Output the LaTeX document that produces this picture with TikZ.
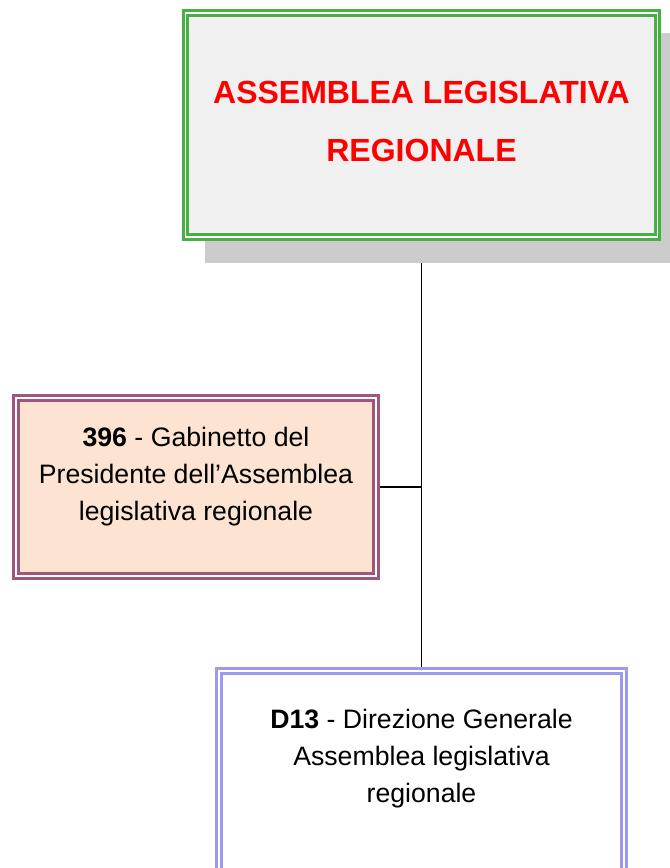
\documentclass[tikz,border=0pt]{standalone}
\usepackage{fontspec}
\setmainfont{Liberation Sans}
\usetikzlibrary{backgrounds, positioning}

\definecolor{assgreen}{RGB}{70,175,70}
\definecolor{assgray}{RGB}{240,240,240}
\definecolor{gabrose}{RGB}{160,85,125}
\definecolor{gabpeach}{RGB}{253,228,210}
\definecolor{dirblue}{RGB}{155,155,240}
\definecolor{shadowgray}{RGB}{204,204,204}

\begin{document}
\begin{tikzpicture}[x=0.75pt, y=-0.75pt,
    box/.style={double=white, line width=2.2pt, double distance=0.9pt,
        outer sep=0pt, inner sep=0pt, align=center},
    link/.style={line width=1.4pt, black}]
    \def\px{0.75pt}
    \useasboundingbox (0,0) rectangle (669,868);

    % Top box: the assembly
    \node[box, draw=assgreen, fill=assgray, minimum width=472*\px, minimum height=224*\px,
        font=\fontsize{24}{43.5}\selectfont\bfseries, text=red, text depth=6pt]
        (ass) at (421.5,125) {ASSEMBLEA LEGISLATIVA\\REGIONALE};

    % Left box: the cabinet
    \node[box, draw=gabrose, fill=gabpeach, minimum width=360*\px, minimum height=178*\px,
        font=\fontsize{20}{27.75}\selectfont, text depth=20pt]
        (gab) at (196,487) {\textbf{396} - Gabinetto del\\Presidente dell’Assemblea\\legislativa regionale};

    % Bottom box: the general direction
    \node[box, draw=dirblue, fill=white, minimum width=405*\px, minimum height=260*\px, anchor=north]
        (dir) at (421.5,671) {};
    \node[font=\fontsize{20}{27.75}\selectfont, align=center, inner sep=0pt, anchor=north,
        below=28.2pt of dir.north]
        (dirname) {\textbf{D13} - Direzione Generale\\Assemblea legislativa\\regionale};

    % Connectors and shadow behind the boxes
    \begin{scope}[on background layer]
        \draw[link] (ass.south) -- (dir.north);
        \draw[link] (gab.east) -- (gab.east -| ass.south);
        \fill[shadowgray] ([shift={(19,19.5)}]ass.north west) rectangle ([shift={(25.5,25.5)}]ass.south east);
    \end{scope}
\end{tikzpicture}
\end{document}
